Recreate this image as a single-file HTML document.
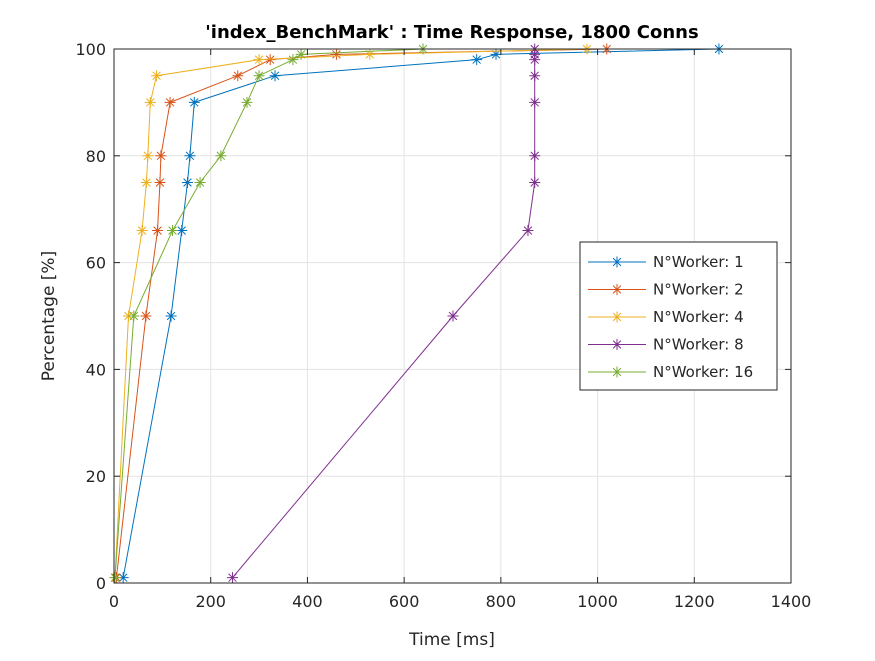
<!DOCTYPE html>
<html><head><meta charset="utf-8"><style>
body{margin:0;background:#fff;}
svg text{font-family:"DejaVu Sans","Liberation Sans",sans-serif;fill:#262626;}
</style></head><body>
<svg id="chart" width="875" height="656" xmlns="http://www.w3.org/2000/svg">
<rect width="875" height="656" fill="#fff"/>
<g id="grid"></g><g id="series"></g><g id="axes"></g>
<text x="452" y="38" text-anchor="middle" font-size="18" font-weight="bold" style="fill:#000">'index_BenchMark' : Time Response, 1800 Conns</text>
<text x="452" y="645" text-anchor="middle" font-size="17">Time [ms]</text>
<text transform="translate(54,316) rotate(-90)" text-anchor="middle" font-size="17">Percentage [%]</text>
<g id="legend"></g>
</svg>
<script>
const percentiles=[1,50,66,75,80,90,95,98,99,100];
const seriesNames=["N°Worker: 1","N°Worker: 2","N°Worker: 4","N°Worker: 8","N°Worker: 16"];
const w1=[19,118,140,152,157,166,333,750,790,1251];
const w2=[5,66,90,95,97,116,256,323,460,1019];
const w4=[2,30,58,67,70,75,88,300,529,978];
const w8=[245,701,856,870,870,870,870,870,870,870];
const w16=[2,41,121,178,221,275,300,370,387,639];
const xTicks=[0,200,400,600,800,1000,1200,1400];
const yTicks=[0,20,40,60,80,100];
const allSeries=[w1,w2,w4,w8,w16];
const colors=["#0072BD","#D95319","#EDB120","#7E2F8E","#77AC30"];
const X0=114,X1=791,Y0=583,Y1=49;
const sx=v=>X0+(v/1400)*(X1-X0);
const sy=v=>Y0-(v/100)*(Y0-Y1);
const NS="http://www.w3.org/2000/svg";
function mk(t,a,p){const e=document.createElementNS(NS,t);for(const k in a)e.setAttribute(k,a[k]);p.appendChild(e);return e;}
const grid=document.getElementById('grid'),axes=document.getElementById('axes'),ser=document.getElementById('series'),leg=document.getElementById('legend');
xTicks.forEach(t=>{const x=sx(t);
 const g=mk('line',{x1:x,x2:x,y1:Y1,y2:Y0,stroke:'#e3e3e3','stroke-width':1},grid);
 
 
 mk('line',{x1:x,x2:x,y1:Y0,y2:Y0-6,stroke:'#262626'},axes);
 mk('line',{x1:x,x2:x,y1:Y1,y2:Y1+6,stroke:'#262626'},axes);
 const tx=mk('text',{x:x,y:Y0+24,'text-anchor':'middle','font-size':16},axes);tx.textContent=t;
 
 
});
yTicks.forEach(t=>{const y=sy(t);
 const g=mk('line',{x1:X0,x2:X1,y1:y,y2:y,stroke:'#e3e3e3','stroke-width':1},grid);
 
 
 mk('line',{x1:X0,x2:X0+6,y1:y,y2:y,stroke:'#262626'},axes);
 mk('line',{x1:X1,x2:X1-6,y1:y,y2:y,stroke:'#262626'},axes);
 const tx=mk('text',{x:X0-8,y:y+6,'text-anchor':'end','font-size':16},axes);tx.textContent=t;
 
 
});
const box=mk('rect',{x:X0,y:Y1,width:X1-X0,height:Y0-Y1,fill:'none',stroke:'#262626','stroke-width':1},axes);


function star(x,y,c,p){const r=5.5,d=3.9;
 mk('path',{d:`M${x-r},${y}H${x+r}M${x},${y-r}V${y+r}M${x-d},${y-d}L${x+d},${y+d}M${x-d},${y+d}L${x+d},${y-d}`,stroke:c,'stroke-width':1,fill:'none'},p);}
allSeries.forEach((s,i)=>{
 const g=mk('g',{},ser);
 
 
 mk('polyline',{points:s.map((v,j)=>sx(v)+','+sy(percentiles[j])).join(' '),fill:'none',stroke:colors[i],'stroke-width':1},g);
 s.forEach((v,j)=>star(sx(v),sy(percentiles[j]),colors[i],g));
});
const lb=mk('rect',{x:580,y:242,width:197,height:148,fill:'#fff',stroke:'#262626'},leg);


seriesNames.forEach((n,i)=>{const y=262+i*27.5;
 const g=mk('g',{},leg);
 
 
 mk('line',{x1:588,x2:646,y1:y,y2:y,stroke:colors[i]},g);
 star(617,y,colors[i],g);
 const t=mk('text',{x:653,y:y+5,'font-size':15},g);t.textContent=n;
});
</script>
</body></html>
